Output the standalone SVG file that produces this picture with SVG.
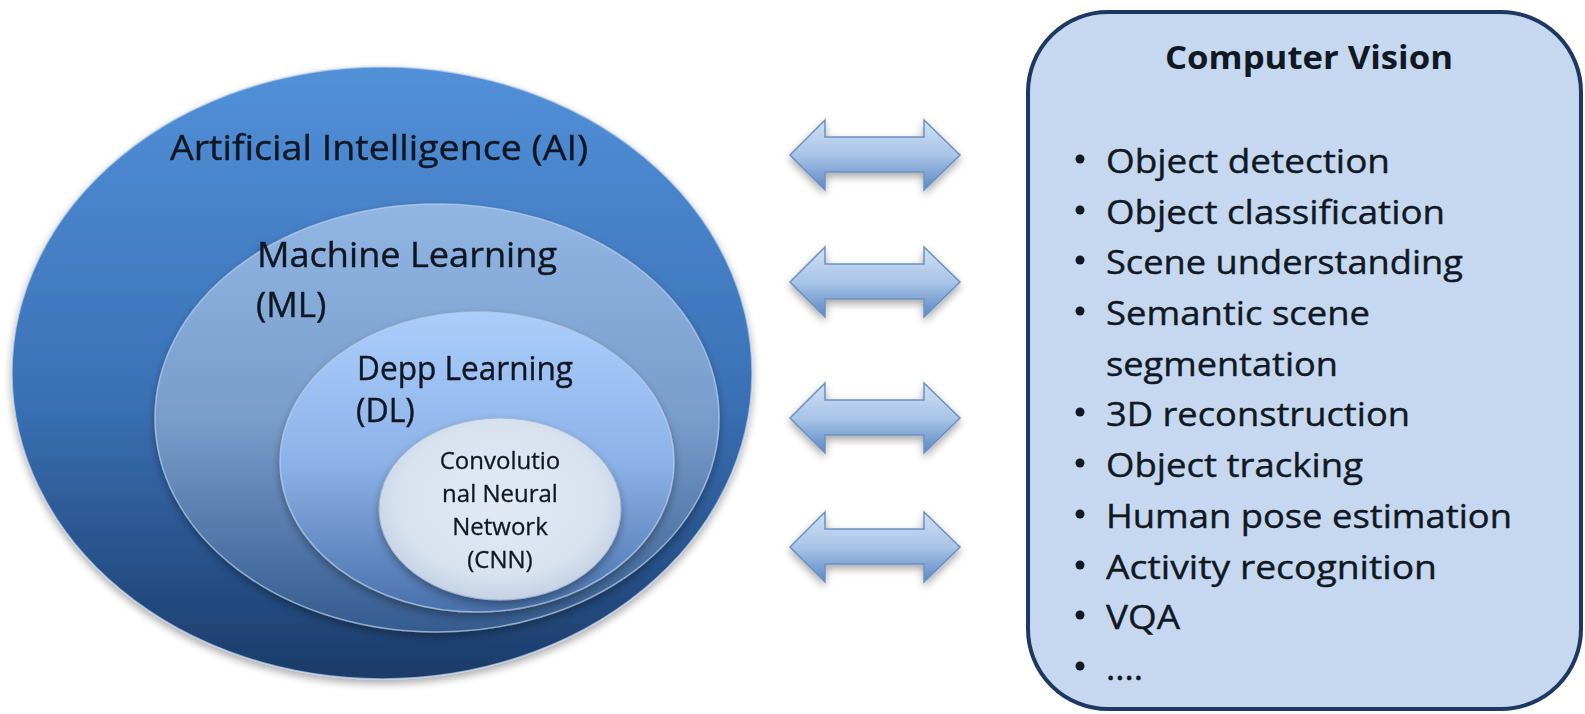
<svg xmlns="http://www.w3.org/2000/svg" width="1585" height="714" viewBox="0 0 1585 714">
  <defs>
    <style>
      .lbl { font-family: "Open Sans", "Liberation Sans", sans-serif; fill: #101823; stroke: #101823; stroke-width: 0.4; }
      .big { font-size: 35px; }
      .cnn { font-size: 24px; text-anchor: middle; stroke-width: 0.3; }
      .item { font-family: "Open Sans", "Liberation Sans", sans-serif; font-size: 32px; fill: #101823; stroke: #101823; stroke-width: 0.4; }
      .title { font-family: "Open Sans", "Liberation Sans", sans-serif; font-size: 33px; font-weight: bold; fill: #101823; }
      .bullet { fill: #101823; }
      .rim { stroke: #b9cfec; stroke-opacity: 0.7; stroke-width: 1.5; }
    </style>
    <linearGradient id="gAI" x1="0" y1="0" x2="0" y2="1">
      <stop offset="0" stop-color="#5290d8"/>
      <stop offset="0.55" stop-color="#3a70b5"/>
      <stop offset="1" stop-color="#1b3b68"/>
    </linearGradient>
    <linearGradient id="gML" x1="0" y1="0" x2="0" y2="1">
      <stop offset="0" stop-color="#91b6e4"/>
      <stop offset="0.5" stop-color="#799dcb"/>
      <stop offset="1" stop-color="#355b8e"/>
    </linearGradient>
    <linearGradient id="gDL" x1="0" y1="0" x2="0" y2="1">
      <stop offset="0" stop-color="#aacdfb"/>
      <stop offset="0.5" stop-color="#8db2e7"/>
      <stop offset="1" stop-color="#4870aa"/>
    </linearGradient>
    <radialGradient id="gCNN" cx="0.5" cy="0.45" r="0.6">
      <stop offset="0" stop-color="#e2e9f3"/>
      <stop offset="0.7" stop-color="#d8e2ef"/>
      <stop offset="1" stop-color="#bccbe0"/>
    </radialGradient>
    <linearGradient id="gArrow" x1="0" y1="0" x2="0" y2="1">
      <stop offset="0" stop-color="#cfe0f4"/>
      <stop offset="0.5" stop-color="#a9c4e7"/>
      <stop offset="1" stop-color="#5a87c4"/>
    </linearGradient>
    <filter id="soft" x="-10%" y="-10%" width="120%" height="125%">
      <feGaussianBlur in="SourceAlpha" stdDeviation="4"/>
      <feOffset dx="0" dy="4" result="b"/>
      <feComponentTransfer><feFuncA type="linear" slope="0.35"/></feComponentTransfer>
      <feMerge><feMergeNode/><feMergeNode in="SourceGraphic"/></feMerge>
    </filter>
    <!-- double-headed block arrow, centred on y = 0 -->
    <path id="dblArrow" d="M790,0 L825,-35 L825,-18 L924,-18 L924,-35 L960,0 L924,35 L924,17 L825,17 L825,35 Z"/>
  </defs>

  <rect width="1585" height="714" fill="#ffffff"/>

  <!-- nested fields -->
  <g id="ai" filter="url(#soft)">
    <ellipse cx="382" cy="373" rx="370" ry="306" fill="url(#gAI)" class="rim"/>
    <text class="lbl big" x="170" y="160" textLength="418" lengthAdjust="spacingAndGlyphs">Artificial Intelligence (AI)</text>
  </g>
  <g id="ml" filter="url(#soft)">
    <ellipse cx="437" cy="418" rx="282" ry="214" fill="url(#gML)" class="rim"/>
    <text class="lbl big" x="257" y="267" textLength="300" lengthAdjust="spacingAndGlyphs">Machine Learning</text>
    <text class="lbl big" x="256" y="317">(ML)</text>
  </g>
  <g id="dl" filter="url(#soft)">
    <ellipse cx="477" cy="462" rx="197" ry="150" fill="url(#gDL)" class="rim"/>
    <text class="lbl" font-size="32" x="357" y="380" textLength="216" lengthAdjust="spacingAndGlyphs">Depp Learning</text>
    <text class="lbl" font-size="32" x="356" y="422">(DL)</text>
  </g>
  <g id="cnn" filter="url(#soft)">
    <ellipse cx="500" cy="509" rx="121" ry="91" fill="url(#gCNN)" stroke="#9fb5d3" stroke-width="1"/>
    <text class="lbl cnn" x="500" y="469">Convolutio</text>
    <text class="lbl cnn" x="500" y="502">nal Neural</text>
    <text class="lbl cnn" x="500" y="535">Network</text>
    <text class="lbl cnn" x="500" y="568">(CNN)</text>
  </g>

  <!-- connectors -->
  <g id="connectors" fill="url(#gArrow)" stroke="#6b90c2" stroke-width="1.5" stroke-linejoin="miter" filter="url(#soft)">
    <use href="#dblArrow" transform="translate(0,155)"/>
    <use href="#dblArrow" transform="translate(0,282)"/>
    <use href="#dblArrow" transform="translate(0,418)"/>
    <use href="#dblArrow" transform="translate(0,547)"/>
  </g>

  <!-- task list -->
  <g id="cv">
    <rect x="1028" y="12" width="553" height="697" rx="80" ry="80" fill="#c6d8ef" stroke="#1f3862" stroke-width="4"/>
    <text class="title" x="1165" y="69" textLength="288" lengthAdjust="spacingAndGlyphs">Computer Vision</text>
    <g class="bullet">
      <circle cx="1080" cy="159" r="4.5"/>
      <circle cx="1080" cy="210" r="4.5"/>
      <circle cx="1080" cy="260" r="4.5"/>
      <circle cx="1080" cy="311" r="4.5"/>
      <circle cx="1080" cy="412" r="4.5"/>
      <circle cx="1080" cy="463" r="4.5"/>
      <circle cx="1080" cy="514" r="4.5"/>
      <circle cx="1080" cy="565" r="4.5"/>
      <circle cx="1080" cy="615" r="4.5"/>
      <circle cx="1080" cy="666" r="4.5"/>
    </g>
    <text class="item" x="1106" y="173" textLength="284" lengthAdjust="spacingAndGlyphs">Object detection</text>
    <text class="item" x="1106" y="224" textLength="339" lengthAdjust="spacingAndGlyphs">Object classification</text>
    <text class="item" x="1106" y="274" textLength="357" lengthAdjust="spacingAndGlyphs">Scene understanding</text>
    <text class="item" x="1106" y="325" textLength="264" lengthAdjust="spacingAndGlyphs">Semantic scene</text>
    <text class="item" x="1106" y="376" textLength="232" lengthAdjust="spacingAndGlyphs">segmentation</text>
    <text class="item" x="1106" y="426" textLength="304" lengthAdjust="spacingAndGlyphs">3D reconstruction</text>
    <text class="item" x="1106" y="477" textLength="257" lengthAdjust="spacingAndGlyphs">Object tracking</text>
    <text class="item" x="1106" y="528" textLength="406" lengthAdjust="spacingAndGlyphs">Human pose estimation</text>
    <text class="item" x="1106" y="579" textLength="331" lengthAdjust="spacingAndGlyphs">Activity recognition</text>
    <text class="item" x="1106" y="629" textLength="74" lengthAdjust="spacingAndGlyphs">VQA</text>
    <text class="item" x="1106" y="680" textLength="37" lengthAdjust="spacingAndGlyphs">....</text>
  </g>
</svg>
